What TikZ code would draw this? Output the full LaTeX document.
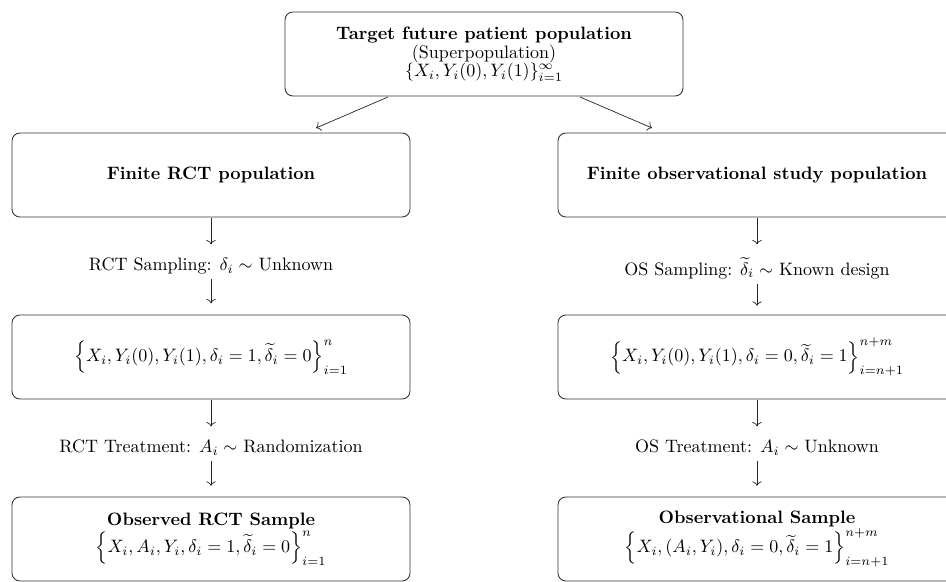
\documentclass[tikz,border=0pt]{standalone}
\usepackage{amsmath}
\usetikzlibrary{arrows.meta}
\begin{document}
\begin{tikzpicture}[x=0.556pt,y=-0.556pt,
  box/.style={draw=black!80, rounded corners=4.4pt, minimum width=221.3pt, minimum height=46.7pt, align=center, inner sep=2pt, line width=0.5pt},
  lbl/.style={align=center, inner sep=1pt},
  arr/.style={->, line width=0.4pt, black!85}]
\useasboundingbox (0,0) rectangle (946,582);
\node[box] (top) at (484,54) {\textbf{Target future patient population}\\[-1.5pt](Superpopulation)\\[-2pt]$\{X_i, Y_i(0), Y_i(1)\}_{i=1}^{\infty}$};
\node[box] (l1) at (211,175) {\textbf{Finite RCT population}};
\node[box] (r1) at (757,175) {\textbf{Finite observational study population}};
\node[lbl] (l2) at (211,266) {RCT Sampling: $\delta_i \sim$ Unknown};
\node[lbl] (r2) at (757,268) {OS Sampling: $\widetilde{\delta}_i \sim$ Known design};
\node[box] (l3) at (211,357) {$\left\{X_i, Y_i(0), Y_i(1), \delta_i = 1, \widetilde{\delta}_i = 0\right\}_{i=1}^{n}$};
\node[box] (r3) at (757,357) {$\left\{X_i, Y_i(0), Y_i(1), \delta_i = 0, \widetilde{\delta}_i = 1\right\}_{i=n+1}^{n+m}$};
\node[lbl] (l4) at (211,448) {RCT Treatment: $A_i \sim$ Randomization};
\node[lbl] (r4) at (757,448) {OS Treatment: $A_i \sim$ Unknown};
\node[box] (l5) at (211,539) {\textbf{Observed RCT Sample}\\[0pt]$\left\{X_i, A_i, Y_i, \delta_i = 1, \widetilde{\delta}_i = 0\right\}_{i=1}^{n}$};
\node[box] (r5) at (757,539) {\textbf{Observational Sample}\\[0pt]$\left\{X_i, (A_i, Y_i), \delta_i = 0, \widetilde{\delta}_i = 1\right\}_{i=n+1}^{n+m}$};
\coordinate (ta) at (388,97);
\coordinate (tb) at (580,97);
\draw[arr] (ta) -- (316,128);
\draw[arr] (tb) -- (652,128);
\draw[arr] (l1.south) ++(0,1) -- ++(0,26);
\draw[arr] (l2.south) ++(0,3) -- ++(0,24);
\draw[arr] (l3.south) ++(0,1) -- ++(0,26);
\draw[arr] (l4.south) ++(0,3) -- ++(0,25);
\draw[arr] (r1.south) ++(0,1) -- ++(0,26);
\draw[arr] (r2.south) ++(0,3) -- ++(0,22);
\draw[arr] (r3.south) ++(0,1) -- ++(0,26);
\draw[arr] (r4.south) ++(0,3) -- ++(0,25);
\end{tikzpicture}
\end{document}
